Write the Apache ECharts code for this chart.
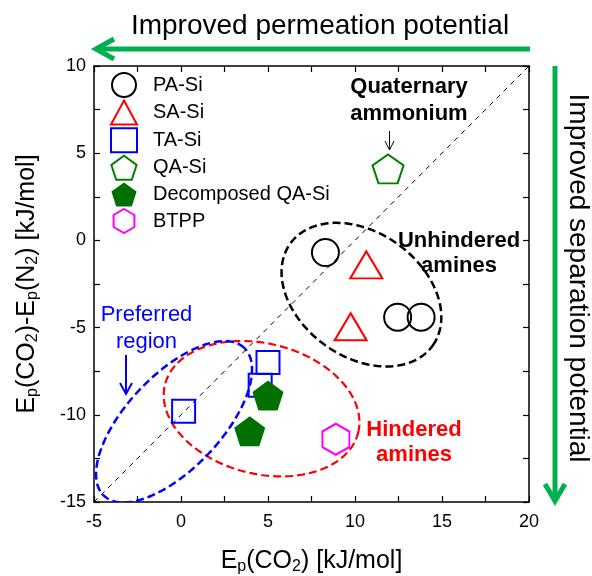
<!DOCTYPE html>
<html><head><meta charset="utf-8">
<script src="https://cdn.jsdelivr.net/npm/echarts@6/dist/echarts.min.js"></script>
<style>html,body{margin:0;padding:0;background:#fff}#c{width:592px;height:576px}</style>
</head><body><div id="c"></div>
<script>
// ---- data ----
const seriesNames = ['PA-Si', 'SA-Si', 'TA-Si', 'QA-Si', 'Decomposed QA-Si', 'BTPP'];
const paSiX = [8.3, 12.45, 13.8];
const paSiY = [-0.7, -4.4, -4.4];
const saSiX = [10.65, 9.75];
const saSiY = [-1.4, -4.95];
const taSiX = [0.15, 5.0, 4.55];
const taSiY = [-9.8, -7.0, -8.3];
const qaSiX = [11.9];
const qaSiY = [4.1];
const decQaX = [5.0, 3.95];
const decQaY = [-8.9, -10.95];
const btppX = [8.9];
const btppY = [-11.4];
const xTicks = [-5, 0, 5, 10, 15, 20];
const yTicks = [-15, -10, -5, 0, 5, 10];
const diagOffset = -10; // reference line y = x - 10
// annotation ellipses (data units): center, semi-axes, rotation deg
const ellipseNames = ['Unhindered', 'Hindered', 'Preferred'];
const ellipseCx = [10.37, 4.63, -0.40];
const ellipseCy = [-3.11, -9.65, -10.40];
const ellipseA = [5.03, 5.72, 5.85];
const ellipseB = [3.57, 3.74, 2.70];
const ellipseRot = [-35.4, -13.9, 46.4];

const FONT = '"Liberation Sans", Arial, sans-serif';
const pentagon = 'path://M0,-1 L0.951,-0.309 L0.588,0.809 L-0.588,0.809 L-0.951,-0.309 Z';
const hexagon = 'path://M0,-1 L0.866,-0.5 L0.866,0.5 L0,1 L-0.866,0.5 L-0.866,-0.5 Z';

function zip(xs, ys) { return xs.map((x, i) => [x, ys[i]]); }

const chart = echarts.init(document.getElementById('c'), null, {renderer: 'canvas', width: 592, height: 576});

const ellColors = ['#000000', '#ff0000', '#0000ff'];
const ellWidths = [2.5, 2.2, 2.5];

function ellipseSeries(k) {
  return {
    type: 'custom', name: ellipseNames[k], silent: true, clip: true, z: 1,
    data: [0],
    renderItem: function (params, api) {
      const th = ellipseRot[k] * Math.PI / 180;
      const ct = Math.cos(th), st = Math.sin(th);
      const pts = [];
      for (let i = 0; i <= 160; i++) {
        const t = i / 160 * 2 * Math.PI;
        const c = Math.cos(t), s = Math.sin(t);
        const x = ellipseCx[k] + ellipseA[k] * c * ct - ellipseB[k] * s * st;
        const y = ellipseCy[k] + ellipseA[k] * c * st + ellipseB[k] * s * ct;
        pts.push(api.coord([x, y]));
      }
      return {type: 'polyline', shape: {points: pts},
        style: {stroke: ellColors[k], lineWidth: ellWidths[k], lineDash: [8, 4], fill: null}};
    }
  };
}

const xMin = xTicks[0], xMax = xTicks[xTicks.length - 1];
const yMin = yTicks[0], yMax = yTicks[yTicks.length - 1];

const axisCommon = {
  interval: 5,
  axisLine: {show: true, onZero: false, lineStyle: {color: '#000', width: 1.5}},
  axisTick: {show: true, inside: true, length: 6, lineStyle: {color: '#000', width: 1.2}},
  minorTick: {show: true, splitNumber: 2, length: 6, lineStyle: {color: '#000', width: 1.2}},
  splitLine: {show: false}
};

const option = {
  animation: false,
  backgroundColor: '#fff',
  grid: {left: 94, right: 63, top: 66, bottom: 74, containLabel: false, outerBoundsMode: 'none'},
  xAxis: [
    Object.assign({}, axisCommon, {
      type: 'value', min: xMin, max: xMax, position: 'bottom',
      axisLabel: {color: '#000', fontSize: 18, fontFamily: FONT, margin: 11},
      name: '{m|E}{s|p}{m|(CO}{s|2}{m|) [kJ/mol]}',
      nameLocation: 'middle', nameGap: 45,
      nameTextStyle: {rich: {
        m: {fontSize: 25, fontFamily: FONT, color: '#000', lineHeight: 28},
        s: {fontSize: 16, fontFamily: FONT, color: '#000', lineHeight: 12, verticalAlign: 'bottom'}
      }}
    }),
    Object.assign({}, axisCommon, {
      type: 'value', min: xMin, max: xMax, position: 'top', axisLabel: {show: false}
    })
  ],
  yAxis: [
    Object.assign({}, axisCommon, {
      type: 'value', min: yMin, max: yMax, position: 'left',
      axisLabel: {color: '#000', fontSize: 18, fontFamily: FONT, margin: 8},
      name: '{m|E}{s|p}{m|(CO}{s|2}{m|)-E}{s|p}{m|(N}{s|2}{m|) [kJ/mol]}',
      nameLocation: 'middle', nameGap: 53, nameRotate: 90,
      nameTextStyle: {rich: {
        m: {fontSize: 25, fontFamily: FONT, color: '#000', lineHeight: 28},
        s: {fontSize: 16, fontFamily: FONT, color: '#000', lineHeight: 12, verticalAlign: 'bottom'}
      }}
    }),
    Object.assign({}, axisCommon, {
      type: 'value', min: yMin, max: yMax, position: 'right', axisLabel: {show: false}
    })
  ],
  legend: {
    data: seriesNames,
    orient: 'vertical', left: 110, top: 72, padding: 0,
    itemWidth: 26, itemHeight: 24, itemGap: 1.6,
    selectedMode: false,
    textStyle: {fontSize: 20, lineHeight: 24, fontFamily: FONT, color: '#000', padding: [0, 0, 0, 11]}
  },
  series: [
    ellipseSeries(0), ellipseSeries(1), ellipseSeries(2),
    {
      type: 'line', name: 'diag', silent: true, symbol: 'none', z: 1,
      data: [[xMin, xMin + diagOffset], [xMax, xMax + diagOffset]],
      lineStyle: {color: '#000', width: 1, type: [5, 5]}
    },
    {
      type: 'scatter', name: 'PA-Si', data: zip(paSiX, paSiY), symbol: 'circle', symbolSize: 27, z: 3,
      itemStyle: {color: 'rgba(0,0,0,0)', borderColor: '#000', borderWidth: 2, opacity: 1}
    },
    {
      type: 'scatter', name: 'SA-Si', data: zip(saSiX, saSiY), symbol: 'triangle', symbolSize: [32, 27], z: 3,
      itemStyle: {color: 'rgba(0,0,0,0)', borderColor: '#ff0000', borderWidth: 2, opacity: 1}
    },
    {
      type: 'scatter', name: 'TA-Si', data: zip(taSiX, taSiY), symbol: 'rect', symbolSize: 23, z: 3,
      itemStyle: {color: 'rgba(0,0,0,0)', borderColor: '#0000ff', borderWidth: 2, opacity: 1}
    },
    {
      type: 'scatter', name: 'QA-Si', data: zip(qaSiX, qaSiY), symbol: pentagon, symbolSize: [31, 29], z: 3,
      itemStyle: {color: 'rgba(0,0,0,0)', borderColor: '#008000', borderWidth: 2, opacity: 1}
    },
    {
      type: 'scatter', name: 'Decomposed QA-Si', data: zip(decQaX, decQaY), symbol: pentagon, symbolSize: [31, 30], z: 4,
      itemStyle: {color: '#007000', borderColor: '#007000', borderWidth: 0, opacity: 1}
    },
    {
      type: 'scatter', name: 'BTPP', data: zip(btppX, btppY), symbol: hexagon, symbolSize: [27, 31], z: 3,
      itemStyle: {color: 'rgba(0,0,0,0)', borderColor: '#ff00ff', borderWidth: 2, opacity: 1}
    }
  ],
  graphic: [
    // top arrow + title
    {type: 'line', shape: {x1: 530, y1: 49, x2: 97, y2: 49}, style: {stroke: '#00b050', lineWidth: 5}, z: 10},
    {type: 'polyline', shape: {points: [[114, 39], [96, 49], [114, 59]]}, style: {stroke: '#00b050', lineWidth: 5, fill: null, lineJoin: 'miter'}, z: 10},
    {type: 'text', x: 320, y: 26, style: {text: 'Improved permeation potential', font: '28px ' + FONT, fill: '#000', textAlign: 'center', textVerticalAlign: 'middle'}, z: 10},
    // right arrow + title
    {type: 'line', shape: {x1: 555, y1: 66, x2: 555, y2: 499}, style: {stroke: '#00b050', lineWidth: 5}, z: 10},
    {type: 'polyline', shape: {points: [[545, 484], [555, 501], [565, 484]]}, style: {stroke: '#00b050', lineWidth: 5, fill: null, lineJoin: 'miter'}, z: 10},
    {type: 'text', x: 578, y: 278, rotation: -Math.PI / 2, style: {text: 'Improved separation potential', font: '28px ' + FONT, fill: '#000', textAlign: 'center', textVerticalAlign: 'middle'}, z: 10},
    // annotations
    {type: 'text', x: 409, y: 100, style: {text: 'Quaternary\nammonium', font: 'bold 22px ' + FONT, fill: '#000', textAlign: 'center', textVerticalAlign: 'middle', lineHeight: 27}, z: 10},
    {type: 'line', shape: {x1: 389.5, y1: 131, x2: 389.5, y2: 150}, style: {stroke: '#000', lineWidth: 1}, z: 10},
    {type: 'polyline', shape: {points: [[385, 141], [389.5, 150], [394, 141]]}, style: {stroke: '#000', lineWidth: 1, fill: null}, z: 10},
    {type: 'text', x: 459, y: 253, style: {text: 'Unhindered\namines', font: 'bold 22px ' + FONT, fill: '#000', textAlign: 'center', textVerticalAlign: 'middle', lineHeight: 25}, z: 10},
    {type: 'text', x: 414, y: 442, style: {text: 'Hindered\namines', font: 'bold 22px ' + FONT, fill: '#ff0000', textAlign: 'center', textVerticalAlign: 'middle', lineHeight: 25}, z: 10},
    {type: 'text', x: 146.5, y: 328, style: {text: 'Preferred\nregion', font: '22px ' + FONT, fill: '#0000ff', textAlign: 'center', textVerticalAlign: 'middle', lineHeight: 27}, z: 10},
    {type: 'line', shape: {x1: 126, y1: 355, x2: 126, y2: 393}, style: {stroke: '#0000ff', lineWidth: 2}, z: 10},
    {type: 'polyline', shape: {points: [[120, 383], [126, 394], [132, 383]]}, style: {stroke: '#0000ff', lineWidth: 2, fill: null}, z: 10}
  ]
};
chart.setOption(option);
</script>
</body></html>
